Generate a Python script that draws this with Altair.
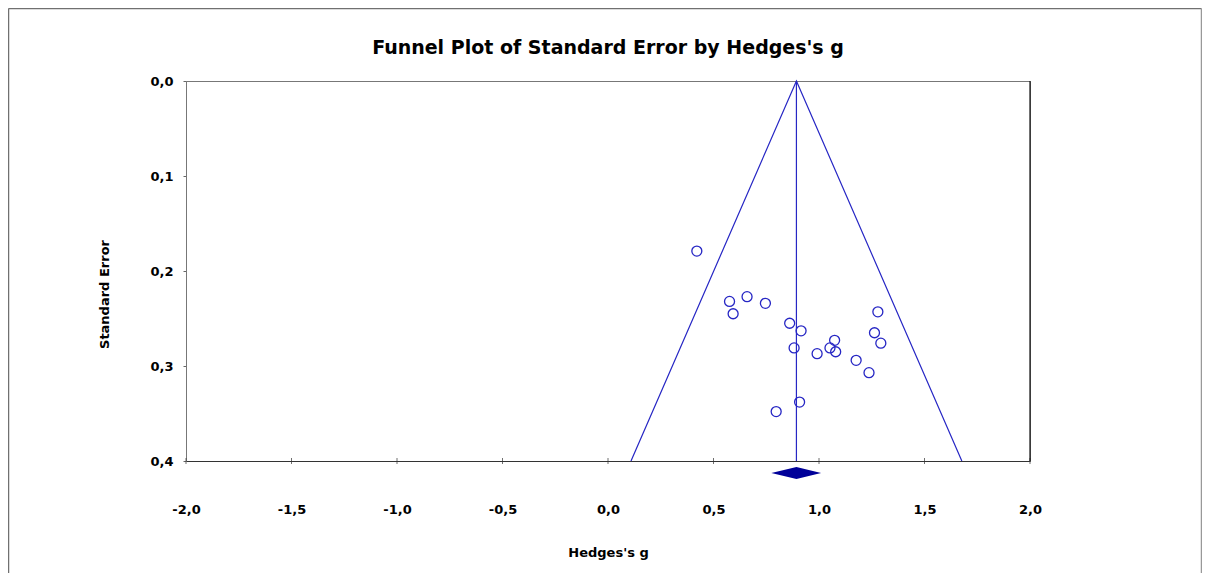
import altair as alt
import pandas as pd

# Study data (Hedges's g, standard error)
g_values = [0.421, 0.576, 0.659, 0.593, 0.746, 0.861, 0.915, 0.882, 0.991, 1.052,
            1.074, 1.079, 1.176, 1.237, 1.279, 1.263, 1.293, 0.908, 0.797]
se_values = [0.179, 0.232, 0.227, 0.245, 0.234, 0.255, 0.263, 0.281, 0.287, 0.281,
             0.273, 0.285, 0.294, 0.307, 0.243, 0.265, 0.276, 0.338, 0.348]

# Summary estimate and confidence interval
estimate = 0.893
ci_low = 0.774
ci_high = 1.010

x_ticks = [-2.0, -1.5, -1.0, -0.5, 0.0, 0.5, 1.0, 1.5, 2.0]
y_ticks = [0.0, 0.1, 0.2, 0.3, 0.4]
se_max = 0.4

title_text = "Funnel Plot of Standard Error by Hedges's g"

W, H = 844, 380
BLUE = "#2626c4"
NAVY = "#000099"
FONT = "DejaVu Sans"

pts = pd.DataFrame({"g": g_values, "se": se_values})

funnel = pd.DataFrame({
    "g": [estimate - 1.96 * se_max, estimate, estimate + 1.96 * se_max],
    "se": [se_max, 0.0, se_max],
    "ord": [0, 1, 2],
})
vline = pd.DataFrame({"g": [estimate], "se": [0.0], "se2": [se_max]})

# diamond below the axis (mid / half-height expressed in SE units)
d_mid = se_max + 12.0 / H * se_max
d_half = 6.0 / H * se_max
diamond = pd.DataFrame({
    "g": [ci_low, estimate, ci_high],
    "top": [d_mid, d_mid - d_half, d_mid],
    "bot": [d_mid, d_mid + d_half, d_mid],
})
ticks_df = pd.DataFrame({"g": x_ticks, "se": [se_max] * len(x_ticks)})
title_df = pd.DataFrame({"t": [title_text]})

xscale = alt.Scale(domain=[-2.0, 2.0], nice=False, zero=False)
yscale = alt.Scale(domain=[0.0, 0.4], reverse=True, nice=False, zero=False)

label_expr = "replace(replace(format(datum.value, '.1f'), '.', ','), '\u2212', '-')"

xaxis = alt.Axis(values=x_ticks, labelExpr=label_expr, ticks=False, tickSize=0,
                 labelPadding=42, labelFlush=False, domainColor="#333333", grid=False,
                 labelFont=FONT, labelFontWeight="bold", labelFontSize=13,
                 labelColor="#000000",
                 title="Hedges's g", titleFont=FONT, titleFontWeight="bold",
                 titleFontSize=13, titleColor="#000000", titleY=85, titleBaseline="top")
yaxis = alt.Axis(values=y_ticks, labelExpr=label_expr, tickSize=3, tickColor="#666666",
                 labelPadding=10, labelFlush=False, domainColor="#777777", grid=False,
                 labelFont=FONT, labelFontWeight="bold", labelFontSize=13,
                 labelColor="#000000",
                 title="Standard Error", titleFont=FONT, titleFontWeight="bold",
                 titleFontSize=13, titleColor="#000000", titleX=-82, titleY=213,
                 titleBaseline="middle", titleAngle=-90)

base_points = alt.Chart(pts).mark_point(
    shape="circle", filled=False, size=100, color=BLUE, strokeWidth=1.3, opacity=1
).encode(
    x=alt.X("g:Q", scale=xscale, axis=xaxis),
    y=alt.Y("se:Q", scale=yscale, axis=yaxis),
)

funnel_line = alt.Chart(funnel).mark_line(color=BLUE, strokeWidth=1.2).encode(
    x=alt.X("g:Q", scale=xscale),
    y=alt.Y("se:Q", scale=yscale),
    order="ord:Q",
)

vrule = alt.Chart(vline).mark_rule(color=BLUE, strokeWidth=1.2).encode(
    x=alt.X("g:Q", scale=xscale),
    y=alt.Y("se:Q", scale=yscale),
    y2="se2:Q",
)

diamond_mark = alt.Chart(diamond).mark_area(color=NAVY, opacity=1, clip=False).encode(
    x=alt.X("g:Q", scale=xscale),
    y=alt.Y("top:Q", scale=yscale),
    y2="bot:Q",
)

xticks_mark = alt.Chart(ticks_df).mark_tick(
    orient="vertical", size=6, thickness=1, color="#333333"
).encode(
    x=alt.X("g:Q", scale=xscale),
    y=alt.Y("se:Q", scale=yscale),
)

right_frame = alt.Chart(vline).mark_rule(color="#111111", strokeWidth=1.2).encode(
    x=alt.value(W), y=alt.value(0), y2=alt.value(H)
)

title_mark = alt.Chart(title_df).mark_text(
    font=FONT, fontSize=19, fontWeight="bold", color="#000000",
    align="center", baseline="alphabetic"
).encode(
    text="t:N", x=alt.value(W / 2), y=alt.value(-27)
)

# outer border (left, top, right)
border_left = alt.Chart(vline).mark_rule(color="#707070", strokeWidth=1.5).encode(
    x=alt.value(-177.5), y=alt.value(-72.5), y2=alt.value(H + 120)
)
border_top = alt.Chart(vline).mark_rule(color="#707070", strokeWidth=1.5).encode(
    x=alt.value(-177.5), x2=alt.value(W + 171.5), y=alt.value(-72.5)
)
border_right = alt.Chart(vline).mark_rule(color="#999999", strokeWidth=1.5).encode(
    x=alt.value(W + 171.5), y=alt.value(-72.5), y2=alt.value(H + 120)
)

chart = alt.layer(
    funnel_line, vrule, base_points, diamond_mark, xticks_mark, right_frame,
    title_mark, border_left, border_top, border_right
).properties(
    width=W, height=H,
    padding={"left": 178, "top": 73, "right": 172, "bottom": 112},
    autosize=alt.AutoSizeParams(type="none"),
    background="white",
).configure_view(stroke="#777777", strokeWidth=1)

chart.save("out.html", embed_options={"renderer": "svg", "actions": False})
